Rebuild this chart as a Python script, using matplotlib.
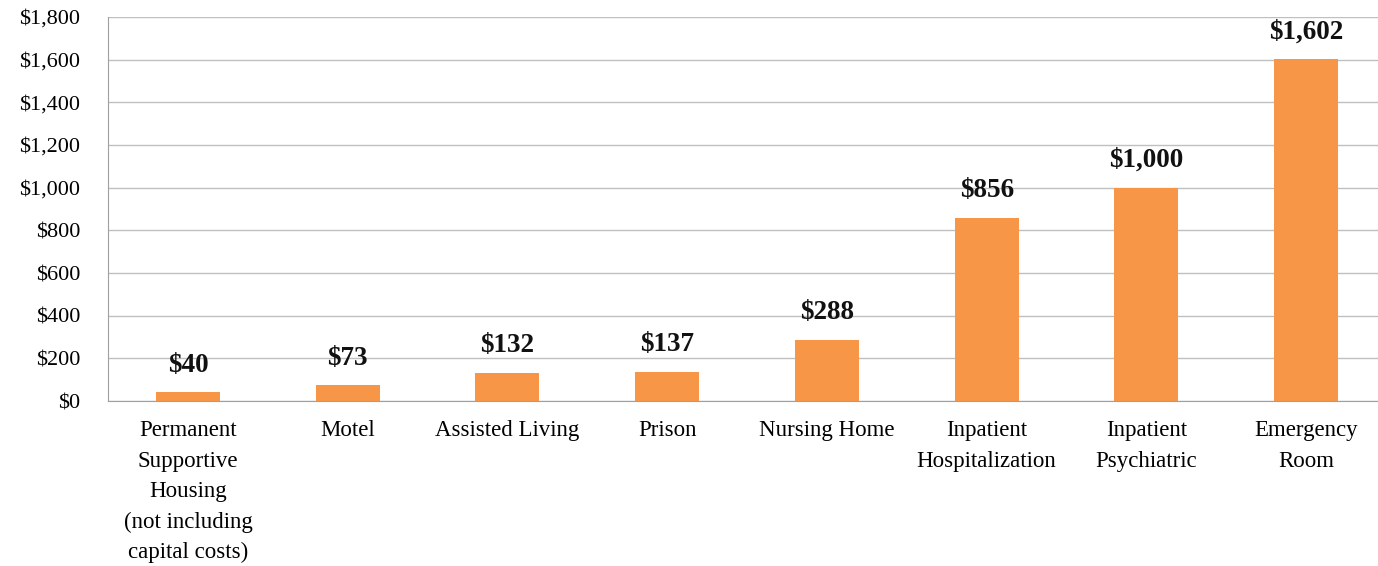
import matplotlib.pyplot as plt
from matplotlib.ticker import FuncFormatter

categories = ['Permanent\nSupportive\nHousing\n(not including\ncapital costs)',
              'Motel', 'Assisted Living', 'Prison', 'Nursing Home',
              'Inpatient\nHospitalization', 'Inpatient\nPsychiatric',
              'Emergency\nRoom']
costs = [40, 73, 132, 137, 288, 856, 1000, 1602]
yticks = [0, 200, 400, 600, 800, 1000, 1200, 1400, 1600, 1800]

plt.rcParams['font.family'] = ['Liberation Serif', 'DejaVu Serif']

fig = plt.figure(figsize=(13.78, 5.66), dpi=100)
ax = fig.add_axes([0.0784, 0.2915, 0.9274, 0.6785])

x = range(len(categories))
ax.bar(x, costs, width=0.4, color='#F79646', zorder=2)
for i, v in zip(x, costs):
    ax.text(i, v + 70, '${:,}'.format(v), ha='center', va='bottom',
            fontsize=19.5, fontweight='bold', color='#111111')

ax.set_ylim(0, 1800)
ax.set_xlim(-0.5, len(categories) - 0.5)
ax.set_yticks(yticks)
ax.yaxis.set_major_formatter(FuncFormatter(lambda v, p: '${:,.0f}'.format(v)))
ax.set_xticks(list(x))
ax.set_xticklabels(categories, fontsize=16.5, linespacing=1.58, va='top')
ax.tick_params(axis='y', labelsize=16, length=0, pad=20)
ax.tick_params(axis='x', length=0, pad=14)
ax.grid(axis='y', color='#c0c0c0', linewidth=1, zorder=0)
for s in ['top', 'right']:
    ax.spines[s].set_visible(False)
ax.spines['left'].set_color('#a0a0a0')
ax.spines['bottom'].set_color('#a0a0a0')

fig.savefig('out.png', dpi=100)
